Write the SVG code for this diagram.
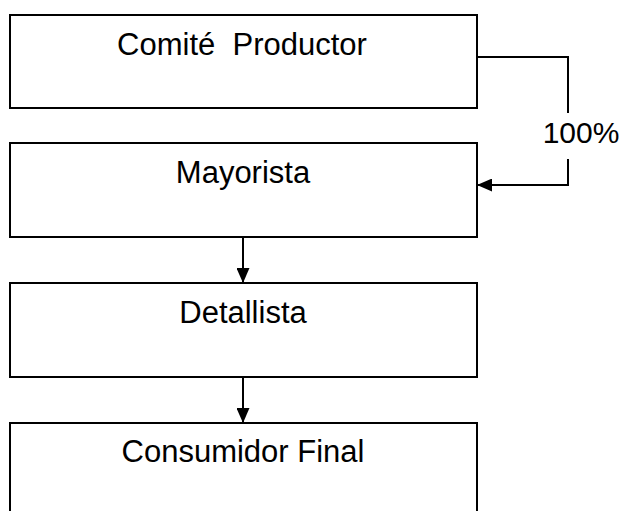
<svg xmlns="http://www.w3.org/2000/svg" width="622" height="511" viewBox="0 0 622 511">
  <style>
    .box { fill: #ffffff; stroke: #000000; stroke-width: 2; }
    .label { font-family: "Liberation Sans", Arial, sans-serif; font-size: 31px; fill: #000000; text-anchor: middle; }
    .pct { font-size: 30px; }
    .edge { fill: none; stroke: #000000; stroke-width: 2; }
  </style>
  <defs>
    <marker id="arrow" markerUnits="userSpaceOnUse" markerWidth="15" markerHeight="13" refX="15" refY="6.5" orient="auto">
      <path d="M0,0 L15,6.5 L0,13 Z" fill="#000000"/>
    </marker>
  </defs>
  <rect width="622" height="511" fill="#ffffff"/>

  <g id="comite-productor">
    <rect class="box" x="10" y="15" width="467" height="93"/>
    <text class="label" x="242" y="55" xml:space="preserve">Comité  Productor</text>
  </g>
  <g id="mayorista">
    <rect class="box" x="10" y="143" width="467" height="94"/>
    <text class="label" x="243" y="183">Mayorista</text>
  </g>
  <g id="detallista">
    <rect class="box" x="10" y="283" width="467" height="94"/>
    <text class="label" x="243" y="323">Detallista</text>
  </g>
  <g id="consumidor-final">
    <rect class="box" x="10" y="423" width="467" height="100"/>
    <text class="label" x="243" y="462">Consumidor Final</text>
  </g>

  <g id="connectors">
    <polyline class="edge" points="477,57 568,57 568,113"/>
    <text class="label pct" x="581" y="143">100%</text>
    <polyline class="edge" points="568,159 568,185 477,185" marker-end="url(#arrow)"/>
    <line class="edge" x1="243" y1="237" x2="243" y2="283" marker-end="url(#arrow)"/>
    <line class="edge" x1="243" y1="377" x2="243" y2="423" marker-end="url(#arrow)"/>
  </g>
</svg>
